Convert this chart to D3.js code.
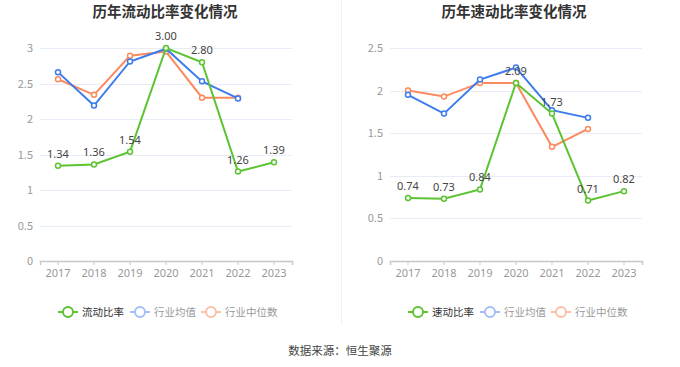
<!DOCTYPE html>
<html>
<head>
<meta charset="utf-8">
<script src="https://cdn.jsdelivr.net/npm/d3@7"></script>
<style>
  body { margin: 0; background: #fff; }
  svg { display: block; font-family: "Noto Sans CJK SC", "Noto Sans", sans-serif; }
</style>
</head>
<body>
<div id="chart"></div>
<script>
const years = ['2017', '2018', '2019', '2020', '2021', '2022', '2023']

const currentRatio = [1.34, 1.36, 1.54, 3.00, 2.80, 1.26, 1.39]
const currentAvg = [2.66, 2.19, 2.81, 2.99, 2.53, 2.29]
const currentMedian = [2.56, 2.34, 2.89, 2.95, 2.30, 2.30]
const currentTicks = [0, 0.5, 1, 1.5, 2, 2.5, 3]

const quickRatio = [0.74, 0.73, 0.84, 2.09, 1.73, 0.71, 0.82]
const quickAvg = [1.95, 1.73, 2.13, 2.27, 1.77, 1.68]
const quickMedian = [2.00, 1.93, 2.09, 2.09, 1.34, 1.55]
const quickTicks = [0, 0.5, 1, 1.5, 2, 2.5]

const colors = { main: '#5cc332', avg: '#3d7cec', median: '#fb8a5e' }
const fadedColors = { avg: '#a3bff5', median: '#fcc0a8' }

const svg = d3.select('#chart')
  .append('svg')
  .attr('width', 680)
  .attr('height', 367)

// divider between the two panels
svg.append('line')
  .attr('x1', 341.5).attr('x2', 341.5)
  .attr('y1', 0).attr('y2', 325)
  .attr('stroke', '#f2f2f2')

function panel(opts) {
  const g = svg.append('g')

  const x = d3.scaleBand()
    .domain(years)
    .range([opts.left, opts.left + 252])

  const y = d3.scaleLinear()
    .domain([0, opts.ticks[opts.ticks.length - 1]])
    .range([261, 48])

  // title
  g.append('text')
    .attr('x', opts.titleX)
    .attr('y', 17)
    .attr('text-anchor', 'middle')
    .attr('font-size', 14.5)
    .attr('font-weight', 'bold')
    .attr('fill', '#333')
    .text(opts.title)

  // grid
  g.selectAll('.grid')
    .data(opts.ticks.slice(1))
    .enter()
    .append('line')
    .attr('x1', opts.left)
    .attr('x2', opts.left + 252)
    .attr('y1', d => Math.round(y(d)) + 0.5)
    .attr('y2', d => Math.round(y(d)) + 0.5)
    .attr('stroke', '#e8ecf6')

  // y axis labels
  g.selectAll('.ylab')
    .data(opts.ticks)
    .enter()
    .append('text')
    .attr('x', opts.left - 7)
    .attr('y', d => y(d) + 4)
    .attr('text-anchor', 'end')
    .attr('font-size', 11)
    .attr('fill', '#999')
    .text(d => d)

  // x axis
  const xAxis = g.append('g')
    .attr('transform', 'translate(0,261)')
    .call(d3.axisBottom(x).tickSize(4).tickPadding(4))
  xAxis.select('.domain').attr('stroke', '#c8c8c8').attr('stroke-width', 1.5)
  xAxis.selectAll('.tick line').attr('stroke', '#c8c8c8')
  xAxis.selectAll('.tick text')
    .attr('fill', '#999')
    .attr('font-size', 11)
    .attr('font-family', '"Noto Sans", sans-serif')

  const cx = (d, i) => x(years[i]) + x.bandwidth() / 2
  const line = d3.line().x(cx).y(d => y(d))

  const series = [
    { values: opts.median, color: colors.median },
    { values: opts.avg, color: colors.avg },
    { values: opts.main, color: colors.main },
  ]

  series.forEach(s => {
    g.append('path')
      .datum(s.values)
      .attr('d', line)
      .attr('fill', 'none')
      .attr('stroke', s.color)
      .attr('stroke-width', 2)

    g.selectAll(null)
      .data(s.values)
      .enter()
      .append('circle')
      .attr('cx', cx)
      .attr('cy', d => y(d))
      .attr('r', 2.5)
      .attr('fill', '#fff')
      .attr('stroke', s.color)
      .attr('stroke-width', 1.5)
  })

  // value labels for the main series
  g.selectAll('.vlab')
    .data(opts.main)
    .enter()
    .append('text')
    .attr('x', cx)
    .attr('y', d => y(d) - 8)
    .attr('text-anchor', 'middle')
    .attr('font-size', 11)
    .attr('fill', '#444')
    .attr('font-family', '"Noto Sans", sans-serif')
    .text(d => d.toFixed(2))

  // legend
  const legend = [
    { name: opts.mainName, color: colors.main, text: '#333', x: opts.left + 18 },
    { name: '行业均值', color: fadedColors.avg, text: '#999', x: opts.left + 90 },
    { name: '行业中位数', color: fadedColors.median, text: '#999', x: opts.left + 161 },
  ]
  const items = g.selectAll('.legend')
    .data(legend)
    .enter()
    .append('g')
    .attr('transform', d => `translate(${d.x},312)`)

  items.append('line')
    .attr('x1', 0).attr('x2', 20)
    .attr('stroke', d => d.color)
    .attr('stroke-width', 2)
  items.append('circle')
    .attr('cx', 10)
    .attr('r', 5)
    .attr('fill', '#fff')
    .attr('stroke', d => d.color)
    .attr('stroke-width', 2)
  items.append('text')
    .attr('x', 24)
    .attr('y', 4)
    .attr('font-size', 10.5)
    .attr('fill', d => d.text)
    .text(d => d.name)
}

panel({
  left: 40, titleX: 165, title: '历年流动比率变化情况', mainName: '流动比率',
  ticks: currentTicks, main: currentRatio, avg: currentAvg, median: currentMedian,
})

panel({
  left: 390, titleX: 514, title: '历年速动比率变化情况', mainName: '速动比率',
  ticks: quickTicks, main: quickRatio, avg: quickAvg, median: quickMedian,
})

// footer
svg.append('text')
  .attr('x', 340)
  .attr('y', 355)
  .attr('text-anchor', 'middle')
  .attr('font-size', 11.5)
  .attr('fill', '#444')
  .text('数据来源：恒生聚源')
</script>
</body>
</html>
